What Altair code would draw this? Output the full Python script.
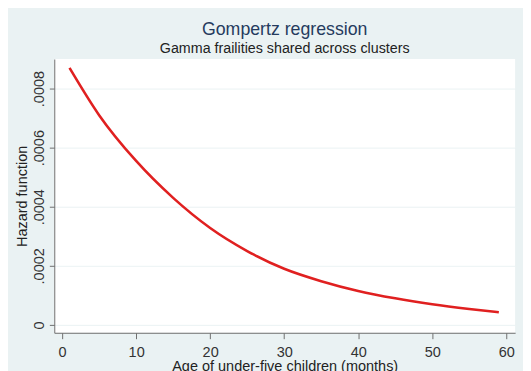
import altair as alt
import pandas as pd

# Values
months = [1, 5, 10, 15, 20, 25, 30, 35, 40, 45, 50, 55, 59]
hazard = [0.00087, 0.00071, 0.000555, 0.00043, 0.000328, 0.00025, 0.00019,
          0.000148, 0.000115, 0.000090, 0.000070, 0.000054, 0.000043]
x_ticks = [0, 10, 20, 30, 40, 50, 60]
y_ticks = [0, 0.0002, 0.0004, 0.0006, 0.0008]

df = pd.DataFrame({"month": months, "hazard": hazard})

FONT = "Liberation Sans"
AXIS_COL = "#6e6e6e"

chart = alt.Chart(df).mark_line(
    color="#e02020", strokeWidth=2.6, interpolate="monotone"
).encode(
    x=alt.X(
        "month:Q",
        scale=alt.Scale(domain=[-1.06, 61.2], nice=False, zero=False),
        axis=alt.Axis(
            values=x_ticks,
            title="Age of under-five children (months)",
            grid=False,
            domainColor=AXIS_COL,
            tickColor=AXIS_COL,
            tickSize=6,
            labelPadding=6,
            labelFontSize=14.7,
            labelColor="#333333",
            labelFont=FONT,
            labelFlush=False,
            titleFont=FONT,
            titleFontSize=14.7,
            titleFontWeight="normal",
            titleColor="#222222",
            titlePadding=0,
        ),
    ),
    y=alt.Y(
        "hazard:Q",
        scale=alt.Scale(domain=[-0.0000267, 0.0009], nice=False, zero=False),
        axis=alt.Axis(
            values=y_ticks,
            labelExpr="datum.value == 0 ? '0' : replace(format(datum.value, '.4f'), '0.', '.')",
            title="Hazard function",
            grid=True,
            gridColor="#eaf2f3",
            gridWidth=1,
            domainColor=AXIS_COL,
            tickColor=AXIS_COL,
            tickSize=5,
            labelAngle=270,
            labelAlign="center",
            labelBaseline="bottom",
            labelPadding=3,
            labelFontSize=14.7,
            labelColor="#333333",
            labelFont=FONT,
            labelFlush=False,
            titleFont=FONT,
            titleFontSize=14.7,
            titleFontWeight="normal",
            titleColor="#222222",
            titlePadding=2,
        ),
    ),
).properties(
    width=468,
    height=278,
    autosize=alt.AutoSizeParams(type="none"),
    padding={"left": 47, "top": 49, "right": 8, "bottom": 36},
    title=alt.TitleParams(
        text="Gompertz regression",
        subtitle="Gamma frailities shared across clusters",
        anchor="middle",
        frame="group",
        font=FONT,
        fontSize=18,
        fontWeight="normal",
        color="#253b5e",
        subtitleFont=FONT,
        subtitleFontSize=14.5,
        subtitleColor="#222222",
        subtitlePadding=3,
        offset=4,
    ),
).configure(
    background="#eaf2f3"
).configure_view(
    stroke=None, fill="white"
)

chart.save("out.html", embed_options={"renderer": "svg", "actions": False})
